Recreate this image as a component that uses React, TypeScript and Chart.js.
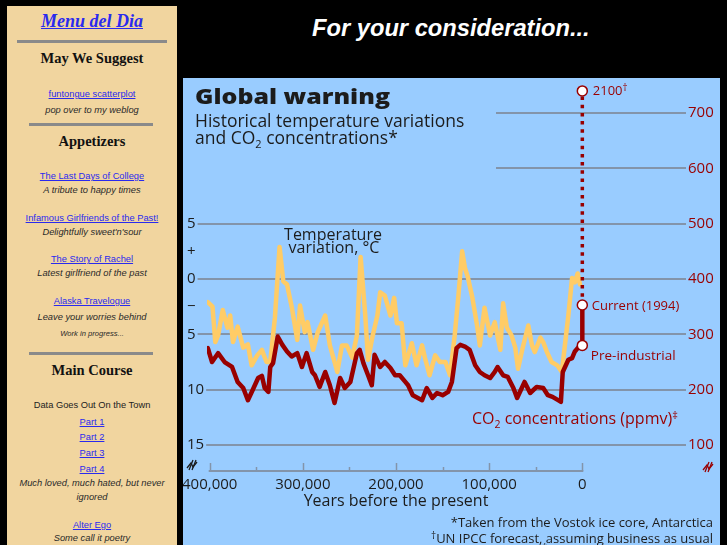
import React, { useEffect, useRef } from 'react';
import { Chart, registerables } from 'chart.js';

Chart.register(...registerables);

// ---------------- data ----------------
// years before present (thousands) and temperature variation (°C)
const tempYearsK = [
  402, 397, 394, 391, 386, 381, 378, 375, 370, 364,
  359, 355, 349, 344, 339, 335, 330, 325, 321, 317,
  312, 306, 303, 298, 295, 289, 284, 276, 271, 263,
  258, 253, 247, 242, 238, 233, 230, 225, 220, 217,
  212, 206, 202, 199, 194, 190, 183, 178, 172, 169,
  164, 158, 153, 147, 142, 137, 133, 129, 126, 123,
  118, 113, 110, 105, 99, 94, 88, 85, 81, 76,
  72, 69, 64, 58, 54, 51, 45, 42, 38, 33,
  27, 22, 19, 15, 11, 8, 5, 2.5,
];
const tempValues = [
  -2.1, -2.5, -5.7, -5.1, -2.8, -4.4, -3.3, -5.7, -4.3, -6.2,
  -5.9, -7.8, -6.9, -6.4, -7.5, -7.5, -3.5, 2.9, -0.2, -0.5,
  -2.5, -5.5, -2.4, -4.8, -3.9, -6.4, -4.8, -3.3, -6.0, -8.4,
  -6.0, -6.0, -7.1, -5.1, 2.0, -3.3, -7.3, -5.1, -3.3, -1.2,
  -1.5, -3.3, -1.7, -4.0, -4.0, -7.8, -5.8, -7.8, -6.0, -7.1,
  -8.7, -6.9, -7.5, -7.5, -8.7, -5.1, -1.5, 2.5, 1.0, 0.2,
  -1.7, -4.2, -6.0, -2.6, -5.1, -3.9, -6.4, -2.2, -4.4, -5.1,
  -6.2, -8.1, -6.2, -4.2, -6.0, -6.6, -5.3, -5.7, -6.6, -7.5,
  -7.8, -8.4, -6.2, -3.3, 0.1, -0.3, 0.5, -0.5,
];
// years before present (thousands) and CO2 (ppmv)
const co2YearsK = [
  402, 397.5, 391, 384, 376, 370, 364, 359, 354, 348,
  344, 341, 337, 335, 332, 327, 322, 317, 312, 306,
  301, 296, 290, 287, 282, 276, 271, 266, 260, 255,
  249, 242, 239, 235, 230, 226, 223, 217, 212, 206,
  201, 196, 190, 187, 182, 172, 167, 161, 156, 150,
  144, 140, 135, 131, 126, 121, 115, 110, 105, 99,
  94, 91, 85, 80, 74, 70, 65, 62, 56, 49,
  42, 37, 32, 26, 23, 21, 15, 11, 8, 2.5,
];
const co2Values = [
  275, 250, 266, 250, 241, 214, 203, 181, 199, 221,
  225, 203, 196, 241, 248, 296, 281, 269, 260, 266,
  241, 266, 232, 226, 205, 232, 208, 176, 221, 203,
  214, 266, 272, 248, 226, 208, 263, 241, 250, 239,
  226, 226, 214, 208, 190, 181, 203, 185, 194, 190,
  196, 214, 275, 281, 278, 272, 244, 232, 226, 221,
  232, 241, 226, 223, 203, 185, 203, 214, 194, 205,
  203, 190, 187, 181, 178, 232, 254, 257, 269, 280,
];
const modernYearsK = [0, 0];
const modernCo2 = [280, 353]; // pre-industrial, current (1994)
const forecastYearsK = [0, 0];
const forecastCo2 = [353, 740]; // current -> 2100 forecast

const tempTickValues = [5, 2.5, 0, -2.5, -5, -10, -15];
const tempTickLabels = ['5', '+', '0', '\u2212', '5', '10', '15'];
const tempGridValues = [5, 0, -5, -10, -15];
const co2TickValues = [100, 200, 300, 400, 500, 600, 700];
const co2PartialGridValues = [600, 700];
const yearTickValues = [400000, 300000, 200000, 100000, 0];
const yearTickLabels = ['400,000', '300,000', '200,000', '100,000', '0'];
const yearMinorTickValues = [350000, 250000, 150000, 50000];

// ---------------- style ----------------
const BG = '#99CCFF';
const GRID = '#8394AA';
const RED = '#990000';
const ORANGE = '#FFCC66';
const INK = '#1c1c1c';
const FONT = '"Open Sans", "DejaVu Sans", sans-serif';
const W = 537;
const H = 485;
const CO2_MIN = 51.2;
const CO2_MAX = 759.7;
const toTemp = (c: number) => (c - 400) / 20;

const pts = (xs: number[], ys: number[]) => xs.map((x, i) => ({ x: x * 1000, y: ys[i] }));

type Part = [string, number, number];
function rich(ctx: CanvasRenderingContext2D, parts: Part[], x: number, y: number, color: string, align: 'left' | 'center' | 'right', weight = 400) {
  ctx.fillStyle = color;
  ctx.textAlign = 'left';
  ctx.textBaseline = 'alphabetic';
  const widths = parts.map(([t, s]) => {
    ctx.font = `${weight} ${s}px ${FONT}`;
    return ctx.measureText(t).width;
  });
  const total = widths.reduce((a, b) => a + b, 0);
  let cx = align === 'left' ? x : align === 'center' ? x - total / 2 : x - total;
  parts.forEach(([t, s, dy], i) => {
    ctx.font = `${weight} ${s}px ${FONT}`;
    ctx.fillText(t, cx, y + dy);
    cx += widths[i];
  });
}

function breakMark(ctx: CanvasRenderingContext2D, x: number, y: number, color: string) {
  ctx.save();
  ctx.strokeStyle = color;
  ctx.lineWidth = 1.3;
  ctx.beginPath();
  ctx.moveTo(x - 5, y + 3);
  ctx.lineTo(x - 1, y - 2);
  ctx.lineTo(x + 1, y + 2);
  ctx.lineTo(x + 5, y - 3);
  ctx.stroke();
  ctx.beginPath();
  ctx.moveTo(x - 3, y + 5);
  ctx.lineTo(x + 1, y - 5);
  ctx.moveTo(x, y + 5);
  ctx.lineTo(x + 4, y - 5);
  ctx.stroke();
  ctx.restore();
}

const decorPlugin = {
  id: 'decor',
  beforeDraw(chart: any) {
    const { ctx } = chart;
    ctx.save();
    ctx.fillStyle = BG;
    ctx.fillRect(0, 0, chart.width, chart.height);
    ctx.restore();
  },
  beforeDatasetsDraw(chart: any) {
    const { ctx, chartArea, scales } = chart;
    const xs = scales.x;
    const yC = scales.yC;
    const yT = scales.yT;
    ctx.save();
    ctx.strokeStyle = GRID;
    ctx.lineWidth = 2;
    // temperature grid lines start right after each label
    ctx.font = `400 15px ${FONT}`;
    tempGridValues.forEach((v) => {
      const label = tempTickLabels[tempTickValues.indexOf(v)];
      const start = yT.left + ctx.measureText(label).width + 2;
      const py = Math.round(yT.getPixelForValue(v));
      ctx.beginPath();
      ctx.moveTo(start, py);
      ctx.lineTo(chartArea.right, py);
      ctx.stroke();
    });
    co2PartialGridValues.forEach((v) => {
      const py = Math.round(yC.getPixelForValue(v));
      ctx.beginPath();
      ctx.moveTo(313, py);
      ctx.lineTo(chartArea.right, py);
      ctx.stroke();
    });
    const axY = chartArea.bottom - 1;
    const x0 = xs.getPixelForValue(yearTickValues[0]);
    const x1 = xs.getPixelForValue(yearTickValues[yearTickValues.length - 1]);
    ctx.beginPath();
    ctx.moveTo(x0 - 1, axY);
    ctx.lineTo(x1 + 1, axY);
    ctx.stroke();
    ctx.lineWidth = 1.5;
    yearTickValues.forEach((v) => {
      const px = Math.round(xs.getPixelForValue(v)) + 0.5;
      ctx.beginPath();
      ctx.moveTo(px, axY);
      ctx.lineTo(px, axY - 8);
      ctx.stroke();
    });
    yearMinorTickValues.forEach((v) => {
      const px = Math.round(xs.getPixelForValue(v)) + 0.5;
      ctx.beginPath();
      ctx.moveTo(px, axY);
      ctx.lineTo(px, axY - 4);
      ctx.stroke();
    });
    ctx.restore();
  },
  afterDraw(chart: any) {
    const { ctx, scales } = chart;
    const xs = scales.x;
    const yC = scales.yC;
    ctx.save();
    ctx.font = `800 21px ${FONT}`;
    const tw = ctx.measureText('Global warning').width;
    ctx.save();
    ctx.translate(12, 25.5);
    ctx.scale(195 / tw, 1);
    ctx.fillStyle = INK;
    ctx.textAlign = 'left';
    ctx.textBaseline = 'alphabetic';
    ctx.fillText('Global warning', 0, 0);
    ctx.restore();

    rich(ctx, [['Historical temperature variations', 17.5, 0]], 12, 49, INK, 'left');
    rich(ctx, [['and CO', 17.5, 0], ['2', 11, 4], [' concentrations*', 17.5, 0]], 12, 65.5, INK, 'left');

    rich(ctx, [['Temperature', 16, 0]], 150, 162, INK, 'center');
    rich(ctx, [['variation, \u00B0C', 16, 0]], 151, 175, INK, 'center');

    rich(ctx, [['CO', 16, 0], ['2', 10.5, 3.5], [' concentrations (ppmv)', 16, 0], ['\u2021', 11, -5]], 289, 346, RED, 'left');

    const px0 = xs.getPixelForValue(0);
    rich(ctx, [['2100', 13, 0], ['\u2020', 10, -4]], px0 + 10.5, yC.getPixelForValue(forecastCo2[1]) + 4.6, RED, 'left');
    rich(ctx, [['Current (1994)', 13, 0]], px0 + 9.5, yC.getPixelForValue(modernCo2[1]) + 5, RED, 'left');
    rich(ctx, [['Pre-industrial', 13.5, 0]], px0 + 8.5, yC.getPixelForValue(modernCo2[0]) + 14.6, RED, 'left');

    rich(ctx, [['Years before the present', 16, 0]], xs.getPixelForValue(200000), 428, INK, 'center');

    rich(ctx, [['*Taken from the Vostok ice core, Antarctica', 13, 0]], 530, 449, INK, 'right');
    rich(ctx, [['\u2020', 10, -4], ['UN IPCC forecast, assuming business as usual', 13, 0]], 530, 465, INK, 'right');
    rich(ctx, [['Sources: CDIAC, Oak Ridge National Laboratory; UN IPCC', 13, 0]], 7, 477, INK, 'left');
    rich(ctx, [['\u2021', 10, -4], ['Parts per million by volume', 13, 0]], 530, 477, INK, 'right');

    breakMark(ctx, 9, 387, INK);
    breakMark(ctx, 525, 389, RED);
    ctx.restore();
  },
};

function noPad(s: any) {
  s.paddingTop = 0;
  s.paddingBottom = 0;
  s.paddingLeft = 0;
  s.paddingRight = 0;
}

function ChartCanvas() {
  const ref = useRef<HTMLCanvasElement | null>(null);
  useEffect(() => {
    if (!ref.current) return;
    const chart = new Chart(ref.current, {
      type: 'line',
      data: {
        datasets: [
          {
            label: 'Temperature variation',
            data: pts(tempYearsK, tempValues),
            yAxisID: 'yT',
            borderColor: ORANGE,
            borderWidth: 4.5,
            pointRadius: 0,
            borderJoinStyle: 'round',
            borderCapStyle: 'round',
            order: 3,
          },
          {
            label: 'CO2 concentrations',
            data: pts(co2YearsK, co2Values),
            yAxisID: 'yC',
            borderColor: RED,
            borderWidth: 4.5,
            pointRadius: 0,
            borderJoinStyle: 'round',
            borderCapStyle: 'round',
            order: 2,
          },
          {
            label: 'Forecast',
            data: pts(forecastYearsK, forecastCo2),
            yAxisID: 'yC',
            borderColor: RED,
            borderWidth: 3.5,
            borderDash: [3.5, 4.7],
            pointRadius: [0, 5],
            pointBackgroundColor: '#ffffff',
            pointBorderColor: RED,
            pointBorderWidth: 1.5,
            order: 1,
          },
          {
            label: 'Modern',
            data: pts(modernYearsK, modernCo2),
            yAxisID: 'yC',
            borderColor: RED,
            borderWidth: 4.5,
            pointRadius: 5,
            pointBackgroundColor: '#ffffff',
            pointBorderColor: RED,
            pointBorderWidth: 1.5,
            order: 0,
          },
        ] as any,
      },
      options: {
        responsive: false,
        animation: false,
        devicePixelRatio: 1,
        events: [],
        layout: { autoPadding: false, padding: { left: 4, top: 2, right: 0, bottom: 0 } },
        plugins: { legend: { display: false }, tooltip: { enabled: false } },
        scales: {
          x: {
            type: 'linear',
            position: 'bottom',
            reverse: true,
            min: -111300,
            max: 402900,
            grid: { display: false, drawTicks: false },
            border: { display: false },
            afterBuildTicks: (s: any) => {
              s.ticks = yearTickValues.map((v) => ({ value: v }));
            },
            ticks: {
              autoSkip: false,
              maxRotation: 0,
              padding: 4,
              color: INK,
              font: { family: FONT, size: 15 },
              callback: (v: any) => {
                const i = yearTickValues.indexOf(Number(v));
                return i >= 0 ? yearTickLabels[i] : '';
              },
            },
            afterFit: (s: any) => {
              s.height = H - 2 - 392;
              noPad(s);
            },
          },
          yT: {
            type: 'linear',
            position: 'left',
            min: toTemp(CO2_MIN),
            max: toTemp(CO2_MAX),
            afterBuildTicks: (s: any) => {
              s.ticks = tempTickValues.map((v) => ({ value: v }));
            },
            grid: { display: false, drawTicks: false },
            border: { display: false },
            ticks: {
              crossAlign: 'far',
              padding: 0,
              color: INK,
              font: { family: FONT, size: 15 },
              callback: (v: any) => {
                const i = tempTickValues.indexOf(Number(v));
                return i >= 0 ? tempTickLabels[i] : '';
              },
            },
            afterFit: (s: any) => {
              s.width = 20;
              noPad(s);
            },
          },
          yC: {
            type: 'linear',
            position: 'right',
            min: CO2_MIN,
            max: CO2_MAX,
            grid: { display: false, drawTicks: false },
            border: { display: false },
            afterBuildTicks: (s: any) => {
              s.ticks = co2TickValues.map((v) => ({ value: v }));
            },
            ticks: {
              padding: 2,
              color: RED,
              font: { family: FONT, size: 15 },
            },
            afterFit: (s: any) => {
              s.width = 34;
              noPad(s);
            },
          },
        },
      } as any,
      plugins: [decorPlugin as any],
    });
    return () => chart.destroy();
  }, []);
  return (
    <canvas
      ref={ref}
      width={W}
      height={H}
      style={{ position: 'absolute', left: 183, top: 78, width: W, height: H }}
    />
  );
}

const SERIF = '"Liberation Serif", "Times New Roman", serif';
const SANS = '"Liberation Sans", Arial, Helvetica, sans-serif';
const LINK = '#2a2aee';
const SB_TOP = 6;

function L(props: { y: number; h?: number; kind: string; size?: number; children: React.ReactNode }) {
  const h = props.h ?? 12;
  const base: React.CSSProperties = {
    position: 'absolute',
    left: 0,
    width: 170,
    top: props.y - SB_TOP - h / 2,
    height: h,
    lineHeight: `${h}px`,
    textAlign: 'center',
    whiteSpace: 'nowrap',
  };
  let st: React.CSSProperties = {};
  if (props.kind === 'head') st = { fontFamily: SERIF, fontWeight: 'bold', fontSize: props.size ?? 14.5, color: '#111' };
  if (props.kind === 'link') st = { fontFamily: SANS, fontSize: props.size ?? 9.3, color: LINK, textDecoration: 'underline' };
  if (props.kind === 'note') st = { fontFamily: SANS, fontStyle: 'italic', fontSize: props.size ?? 9.3, color: '#2a2a2a' };
  if (props.kind === 'plain') st = { fontFamily: SANS, fontSize: props.size ?? 9.3, color: '#222' };
  if (props.kind === 'menu')
    st = { fontFamily: SERIF, fontWeight: 'bold', fontStyle: 'italic', fontSize: 18, color: LINK, textDecoration: 'underline' };
  return <div style={{ ...base, ...st }}>{props.children}</div>;
}

function Rule(props: { y: number; wide?: boolean }) {
  return (
    <div
      style={{
        position: 'absolute',
        left: props.wide ? 10 : 22,
        width: props.wide ? 150 : 124,
        top: props.y - SB_TOP - 1.5,
        height: 3,
        background: '#8a8a8a',
      }}
    />
  );
}

export default function App() {
  return (
    <div
      style={{
        position: 'fixed',
        left: 0,
        top: 0,
        width: 727,
        height: 545,
        background: '#000',
        overflow: 'hidden',
      }}
    >
      <div
        style={{
          position: 'absolute',
          left: 7,
          top: SB_TOP,
          width: 170,
          height: 545,
          background: '#F1D59F',
        }}
      >
        <L y={21} h={22} kind="menu">Menu del Dia</L>
        <Rule y={41} wide />
        <L y={58} h={18} kind="head">May We Suggest</L>
        <L y={94} kind="link">funtongue scatterplot</L>
        <L y={110} kind="note">pop over to my weblog</L>
        <Rule y={124} />
        <L y={141} h={18} kind="head">Appetizers</L>
        <L y={176} kind="link">The Last Days of College</L>
        <L y={190} kind="note">A tribute to happy times</L>
        <L y={217.7} kind="link">Infamous Girlfriends of the Past!</L>
        <L y={231.7} kind="note">Delightfully sweet'n'sour</L>
        <L y={259.3} kind="link">The Story of Rachel</L>
        <L y={272.7} kind="note">Latest girlfriend of the past</L>
        <L y={300.7} kind="link">Alaska Travelogue</L>
        <L y={317.3} kind="note">Leave your worries behind</L>
        <L y={334} kind="note" size={7.6}>Work in progress...</L>
        <Rule y={353.3} />
        <L y={370} h={18} kind="head">Main Course</L>
        <L y={405} kind="plain">Data Goes Out On the Town</L>
        <L y={421.7} kind="link">Part 1</L>
        <L y={437.3} kind="link">Part 2</L>
        <L y={453.3} kind="link">Part 3</L>
        <L y={469.3} kind="link">Part 4</L>
        <L y={483.3} kind="note">Much loved, much hated, but never</L>
        <L y={497.3} kind="note">ignored</L>
        <L y={525} kind="link">Alter Ego</L>
        <L y={538.3} kind="note">Some call it poetry</L>
      </div>
      <div
        style={{
          position: 'absolute',
          left: 312,
          top: 14,
          height: 28,
          lineHeight: '28px',
          whiteSpace: 'nowrap',
          fontFamily: SANS,
          fontWeight: 'bold',
          fontStyle: 'italic',
          fontSize: 23.7,
          color: '#ffffff',
        }}
      >
        For your consideration...
      </div>
      <ChartCanvas />
    </div>
  );
}
